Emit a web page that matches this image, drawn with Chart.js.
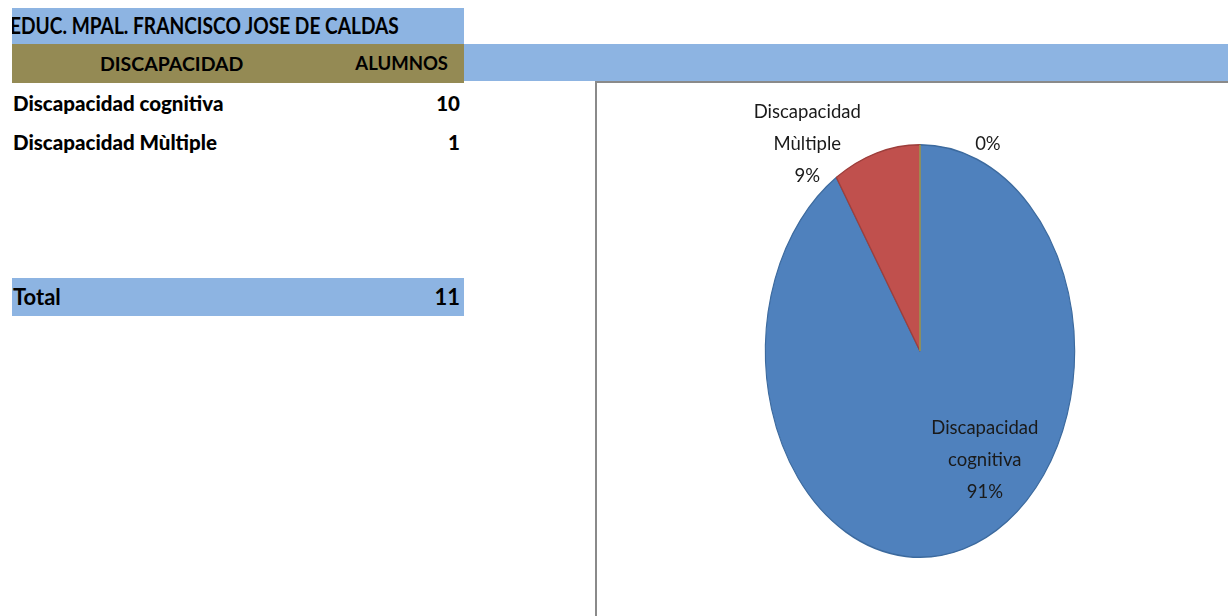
<!DOCTYPE html>
<html lang="es">
<head>
<meta charset="utf-8">
<title>Discapacidad - alumnos</title>
<script src="https://cdn.jsdelivr.net/npm/chart.js@4/dist/chart.umd.min.js"></script>
<style>
	html, body { margin: 0; padding: 0; background: #fff; }
	body { width: 1228px; height: 616px; position: relative; overflow: hidden; font-family: Lato, "Open Sans", sans-serif; color: #000; }
	.cell { position: absolute; box-sizing: border-box; overflow: hidden; }
	.blue { background: #8DB4E2; }
	.olive { background: #948A54; }
	.txt { position: absolute; white-space: nowrap; }
	#frame { position: absolute; left: 595px; top: 81px; width: 633px; height: 535px; box-sizing: border-box; border-left: 2px solid #8a8a8a; border-top: 2px solid #8a8a8a; }
	#frame canvas { display: block; }
</style>
</head>
<body>
<div class="cell blue" style="left:12px; top:8px; width:452px; height:36px;">
	<span class="txt" id="titulo" style="left:-2px; top:0; line-height:36px; font-size:22px; font-weight:700; transform:scaleX(0.87); transform-origin:0 50%;"></span>
</div>
<div class="cell olive" style="left:12px; top:44px; width:452px; height:39px;">
	<span class="txt" id="colCat" style="left:88px; top:0; line-height:39px; font-size:19.5px; font-weight:700;"></span>
	<span class="txt" id="colVal" style="right:16px; top:0; line-height:39px; font-size:18.5px; font-weight:700;"></span>
</div>
<div class="cell blue" style="left:464px; top:44px; width:764px; height:37px;"></div>
<div id="filas"></div>
<div class="cell blue" style="left:12px; top:278px; width:452px; height:38px;">
	<span class="txt" id="totLabel" style="left:1px; top:0; line-height:38px; font-size:22px; font-weight:700;"></span>
	<span class="txt" id="totValue" style="right:4px; top:0; line-height:38px; font-size:22px; font-weight:700;"></span>
</div>
<div id="frame"><canvas id="pie" width="631" height="533"></canvas></div>

<script>
// Table and chart data
const titulo = 'EDUC. MPAL. FRANCISCO JOSE DE CALDAS';
const columnas = ['DISCAPACIDAD', 'ALUMNOS'];
const categorias = ['Discapacidad cognitiva', 'Discapacidad Mùltiple', ''];
const alumnos = [10, 1, 0];

const sliceColors = ['#4F81BD', '#C0504D', '#9BBB59'];
const sliceBorders = ['#3C6A9E', '#9D3E3B', '#7F9B46'];
const squash = 0.75; // horizontal scale of the pie (drawn as an ellipse)

const total = alumnos.reduce((a, b) => a + b, 0);

// Fill in the table
document.getElementById('titulo').textContent = titulo;
document.getElementById('colCat').textContent = columnas[0];
document.getElementById('colVal').textContent = columnas[1];
document.getElementById('totLabel').textContent = 'Total';
document.getElementById('totValue').textContent = total;

let filas = document.getElementById('filas');
let rowTop = 84;
categorias.forEach(function (cat, i) {
	if (cat == '') return;
	let row = document.createElement('div');
	row.className = 'cell';
	row.style.cssText = 'left:12px; top:' + rowTop + 'px; width:452px; height:39px;';
	row.innerHTML = '<span class="txt" style="left:1px; top:0; line-height:39px; font-size:20.5px; font-weight:900;">' + cat + '</span>' +
		'<span class="txt" style="right:4px; top:0; line-height:39px; font-size:20.5px; font-weight:900;">' + alumnos[i] + '</span>';
	filas.appendChild(row);
	rowTop += 39;
});

// Squashes the arcs horizontally and writes the Excel-style data labels
const pieLabels = {
	id: 'pieLabels',
	beforeDatasetsDraw(chart) {
		const arc = chart.getDatasetMeta(0).data[0];
		const ctx = chart.ctx;
		ctx.save();
		ctx.translate(arc.x, arc.y);
		ctx.scale(squash, 1);
		ctx.translate(-arc.x, -arc.y);
	},
	afterDatasetsDraw(chart, args, opts) {
		const ctx = chart.ctx;
		const meta = chart.getDatasetMeta(0);
		// empty slices still show as a thin line from the centre
		meta.data.forEach(function (arc, i) {
			if (arc.circumference === 0) {
				ctx.beginPath();
				ctx.moveTo(arc.x, arc.y);
				ctx.lineTo(arc.x + arc.outerRadius * Math.cos(arc.startAngle), arc.y + arc.outerRadius * Math.sin(arc.startAngle));
				ctx.strokeStyle = sliceColors[i];
				ctx.lineWidth = 1.5;
				ctx.stroke();
			}
		});
		ctx.restore();

		ctx.save();
		ctx.font = opts.font;
		ctx.fillStyle = opts.color;
		ctx.textAlign = 'center';
		ctx.textBaseline = 'middle';
		meta.data.forEach(function (arc, i) {
			const a = opts.anchors[i];
			const x = arc.x + a[0] * arc.outerRadius * squash;
			const y = arc.y + a[1] * arc.outerRadius;
			let lines = categorias[i] ? categorias[i].split(' ') : [];
			lines.push(Math.round(alumnos[i] / total * 100) + '%');
			lines.forEach(function (line, k) {
				ctx.fillText(line, x, y + (k - (lines.length - 1) / 2) * opts.lineHeight);
			});
		});
		ctx.restore();
	}
};

new Chart('pie', {
	type: 'pie',
	data: {
		labels: categorias,
		datasets: [{
			data: alumnos,
			backgroundColor: sliceColors,
			borderColor: sliceBorders,
			borderWidth: 1.5
		}]
	},
	options: {
		responsive: false,
		animation: false,
		layout: {
			padding: { left: 116, right: 101, top: 61, bottom: 58 }
		},
		plugins: {
			legend: { display: false },
			tooltip: { enabled: false },
			pieLabels: {
				font: '18.5px Lato',
				color: '#1a1a1a',
				lineHeight: 32,
				anchors: [[0.419, 0.527], [-0.729, -1.005], [0.439, -1.005]]
			}
		}
	},
	plugins: [pieLabels]
});
</script>
</body>
</html>
